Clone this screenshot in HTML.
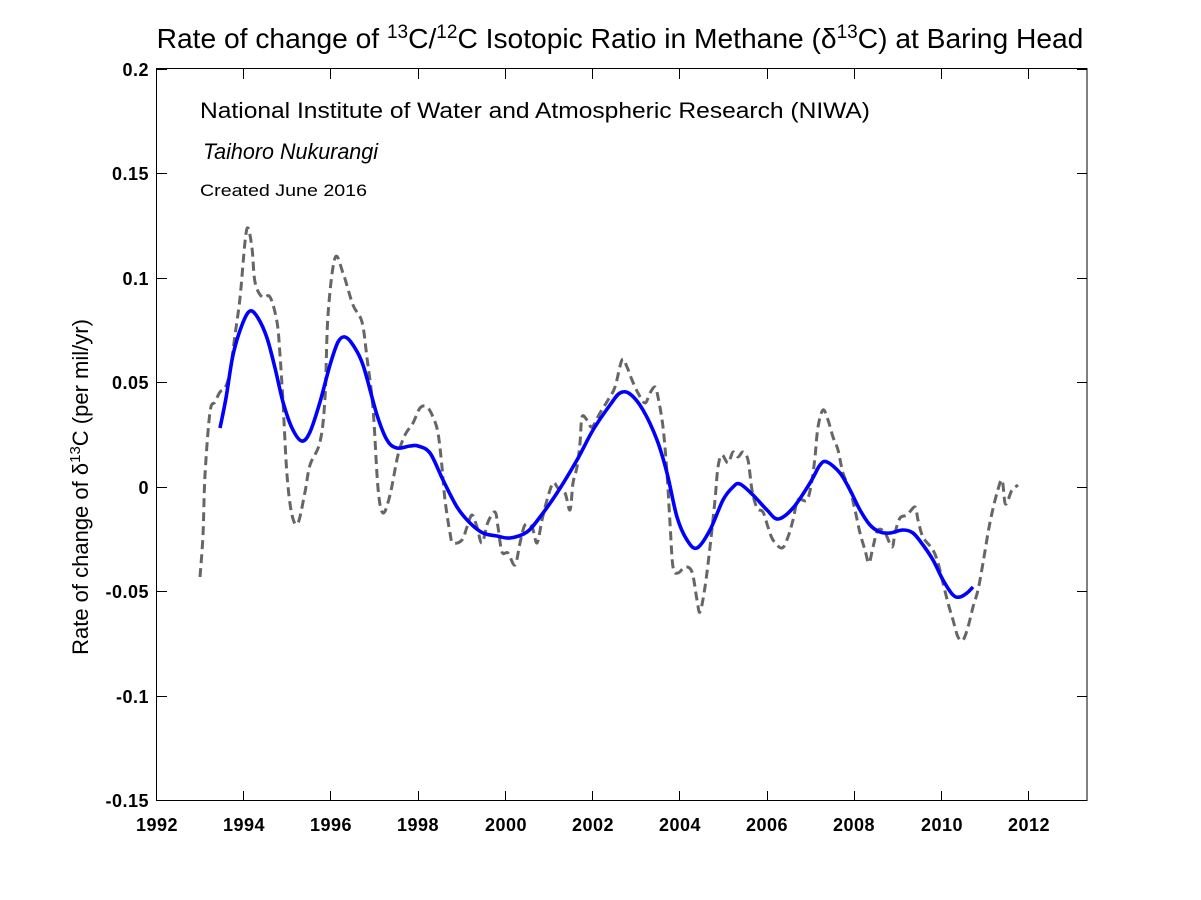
<!DOCTYPE html>
<html>
<head>
<meta charset="utf-8">
<style>
html,body{margin:0;padding:0;background:#fff;}
svg{display:block;}
text{font-family:"Liberation Sans",Arial,sans-serif;fill:#000;}
.tk{font-size:18px;font-weight:bold;letter-spacing:0.5px;}
</style>
</head>
<body>
<svg width="1201" height="900" viewBox="0 0 1201 900" xmlns="http://www.w3.org/2000/svg">
<rect x="0" y="0" width="1201" height="900" fill="#fff"/>

<!-- Title -->
<text x="620" y="48" font-size="28.2" text-anchor="middle">Rate of change of <tspan font-size="19" dy="-10">13</tspan><tspan dy="10">C/</tspan><tspan font-size="19" dy="-10">12</tspan><tspan dy="10">C Isotopic Ratio in Methane (δ</tspan><tspan font-size="19" dy="-10">13</tspan><tspan dy="10">C) at Baring Head</tspan></text>

<!-- Axes box -->
<rect x="156.5" y="68.5" width="930.5" height="732" fill="none" stroke="#000" stroke-width="1"/>

<!-- ticks -->
<g stroke="#000" stroke-width="1">
<path d="M156.5 801v-10M243.5 801v-10M330.5 801v-10M418.5 801v-10M505.5 801v-10M592.5 801v-10M679.5 801v-10M767.5 801v-10M854.5 801v-10M941.5 801v-10M1028.5 801v-10"/>
<path d="M156.5 69v10M243.5 69v10M330.5 69v10M418.5 69v10M505.5 69v10M592.5 69v10M679.5 69v10M767.5 69v10M854.5 69v10M941.5 69v10M1028.5 69v10"/>
<path d="M157 69.5h10M157 173.5h10M157 278.5h10M157 382.5h10M157 487.5h10M157 591.5h10M157 696.5h10M157 800.5h10"/>
<path d="M1087 69.5h-10M1087 173.5h-10M1087 278.5h-10M1087 382.5h-10M1087 487.5h-10M1087 591.5h-10M1087 696.5h-10M1087 800.5h-10"/>
</g>

<!-- x tick labels -->
<g text-anchor="middle">
<text class="tk" x="157" y="831">1992</text>
<text class="tk" x="244" y="831">1994</text>
<text class="tk" x="331" y="831">1996</text>
<text class="tk" x="418" y="831">1998</text>
<text class="tk" x="506" y="831">2000</text>
<text class="tk" x="593" y="831">2002</text>
<text class="tk" x="680" y="831">2004</text>
<text class="tk" x="767" y="831">2006</text>
<text class="tk" x="854" y="831">2008</text>
<text class="tk" x="942" y="831">2010</text>
<text class="tk" x="1029" y="831">2012</text>
</g>

<!-- y tick labels -->
<g text-anchor="end">
<text class="tk" x="149" y="76">0.2</text>
<text class="tk" x="149" y="180">0.15</text>
<text class="tk" x="149" y="285">0.1</text>
<text class="tk" x="149" y="389">0.05</text>
<text class="tk" x="149" y="494">0</text>
<text class="tk" x="149" y="598">-0.05</text>
<text class="tk" x="149" y="703">-0.1</text>
<text class="tk" x="149" y="807">-0.15</text>
</g>

<!-- y label -->
<text transform="translate(88,487) rotate(-90)" font-size="22" text-anchor="middle">Rate of change of δ<tspan font-size="15" dy="-8">13</tspan><tspan dy="8">C (per mil/yr)</tspan></text>

<!-- annotations -->
<text x="200" y="118" font-size="22" textLength="670" lengthAdjust="spacingAndGlyphs">National Institute of Water and Atmospheric Research (NIWA)</text>
<text x="203" y="159" font-size="22" font-style="italic" textLength="175" lengthAdjust="spacingAndGlyphs">Taihoro Nukurangi</text>
<text x="200" y="196" font-size="17" textLength="167" lengthAdjust="spacingAndGlyphs">Created June 2016</text>

<!-- grey dashed series -->
<polyline class="sm" fill="none" stroke="#666666" stroke-width="3" stroke-dasharray="9,5" stroke-linejoin="round"
points="200,577 203,535 205,475 210,412 215,402 220,392 225,388 230,372 235,335 240,298 245,242 248,228 252,248 255,282 262,297 270,297 277,322 280,355 283,402 287,475 292,515 298,523 305,492 310,465 320,442 325,398 328,315 335,258 343,273 353,305 362,322 367,358 373,408 378,488 383,513 390,495 398,455 405,435 413,423 420,408 427,407 433,417 438,433 442,467 445,500 450,533 453,543 462,540 467,527 472,515 477,527 482,543 488,522 495,512 498,527 502,552 508,553 515,565 520,543 525,525 532,527 537,543 542,520 547,500 553,483 558,488 565,493 570,510 573,483 577,467 580,443 582,417 587,420 592,427 600,413 608,400 615,387 622,360 627,367 632,380 638,393 645,403 650,393 655,387 658,397 663,427 667,473 670,523 673,567 678,573 685,567 692,572 697,600 700,612 705,587 710,547 715,500 718,467 722,455 728,463 733,452 738,457 743,452 748,460 752,490 757,508 763,512 768,527 773,540 782,548 788,537 793,520 798,500 807,500 812,480 815,457 818,427 823,410 828,420 833,437 838,450 843,473 850,490 855,510 860,533 865,550 869,563 873,547 878,530 885,533 892,547 895,533 900,518 907,515 915,507 918,520 923,537 933,550 938,563 943,583 948,603 953,620 958,637 963,640 968,627 973,607 978,590 983,563 988,533 992,513 997,493 1002,480 1005,503 1008,500 1012,490 1018,485"/>

<!-- blue smooth series -->
<polyline class="sm" fill="none" stroke="#0000ff" stroke-width="3.6" stroke-linejoin="round" stroke-linecap="butt"
points="220,428 226,398 233,355 242,325 250,311 258,318 267,338 275,368 283,402 292,428 301.7,441 310,432 320,402 330,365 338,342 345,337 353,345 363,365 377,415 387,440 396.7,448 410,446 418,446 430,453 443,480 457,507 470,523 483,533 497,536 510,538 527,532 540,517 557,493 577,460 593,430 610,405 620,393 630,394 643,410 657,440 667,473 677,517 687,540 697,548 710,530 723,500 733,487 740,484 753,495 767,510 778,519 793,508 810,483 820,465 827,462 840,473 850,490 860,510 870,525 880,532 890,533 903,530 913,533 923,545 933,560 943,580 953,595 960,597 967,593 973,587"/>
</svg>
<script>
(function(){
  var ns="http://www.w3.org/2000/svg";
  var pls=document.querySelectorAll("polyline.sm");
  for(var k=0;k<pls.length;k++){
    var pl=pls[k];
    var raw=pl.getAttribute("points").trim().split(/\s+/);
    var p=raw.map(function(s){var a=s.split(",");return [parseFloat(a[0]),parseFloat(a[1])];});
    var d="M"+p[0][0]+" "+p[0][1];
    for(var i=0;i<p.length-1;i++){
      var p0=p[i>0?i-1:i],p1=p[i],p2=p[i+1],p3=p[i+2<p.length?i+2:i+1];
      var t=0.5/3;
      var c1x=p1[0]+(p2[0]-p0[0])*t,c1y=p1[1]+(p2[1]-p0[1])*t;
      var c2x=p2[0]-(p3[0]-p1[0])*t,c2y=p2[1]-(p3[1]-p1[1])*t;
      d+=" C"+c1x.toFixed(2)+" "+c1y.toFixed(2)+" "+c2x.toFixed(2)+" "+c2y.toFixed(2)+" "+p2[0]+" "+p2[1];
    }
    var path=document.createElementNS(ns,"path");
    var attrs=["fill","stroke","stroke-width","stroke-dasharray","stroke-linejoin","stroke-linecap"];
    for(var j=0;j<attrs.length;j++){var v=pl.getAttribute(attrs[j]);if(v)path.setAttribute(attrs[j],v);}
    path.setAttribute("d",d);
    pl.parentNode.replaceChild(path,pl);
  }
})();
</script>
</body>
</html>
